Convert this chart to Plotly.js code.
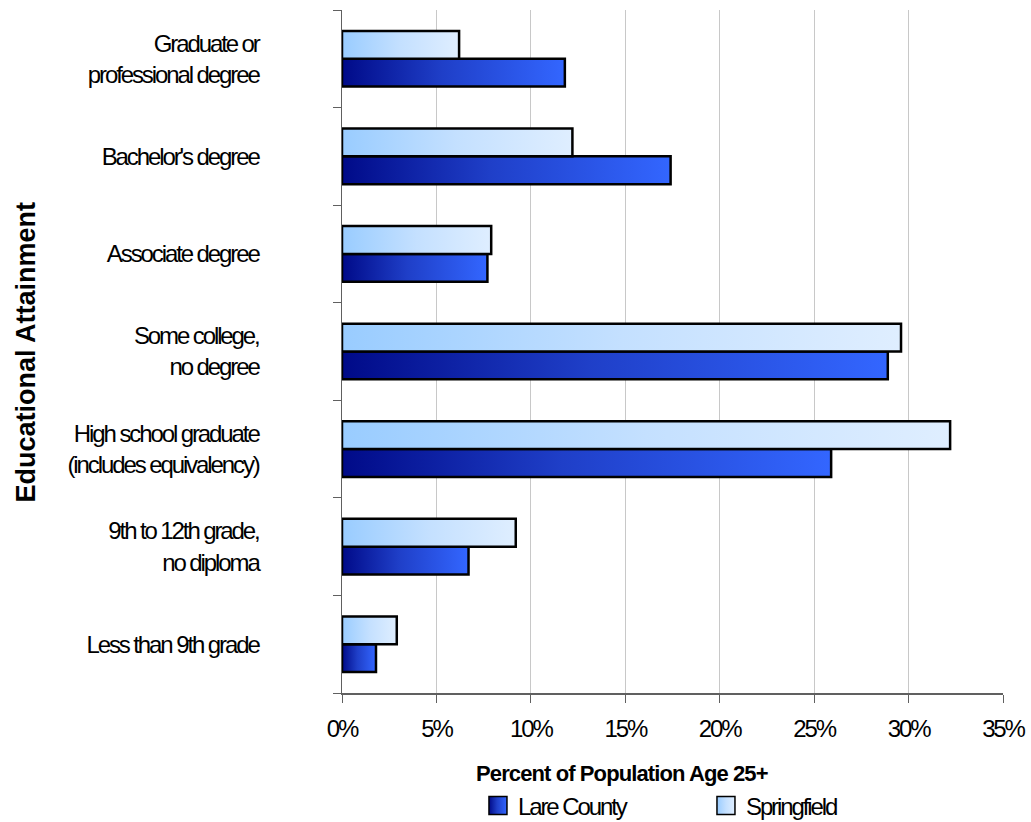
<!DOCTYPE html>
<html>
<head>
<meta charset="utf-8">
<script src="https://cdn.plot.ly/plotly-3.0.1.min.js"></script>
<style>
html,body{margin:0;padding:0;background:#fff;}
#chart{width:1031px;height:822px;}
#chart .xtick text, #chart .ytick text, #chart .legendtext { letter-spacing: -2.1px; }
#chart .annotation-text.xt { letter-spacing: -0.9px; }
</style>
</head>
<body>
<div id="chart"></div>
<script>
// Categories listed bottom to top
const categories = [
  "Less than 9th grade",
  "9th to 12th grade,<br>no diploma",
  "High school graduate<br>(includes equivalency)",
  "Some college,<br>no degree",
  "Associate degree",
  "Bachelor's degree",
  "Graduate or<br>professional degree"
];
const lareCounty = [1.8, 6.7, 25.9, 28.9, 7.7, 17.4, 11.8];
const springfield = [2.9, 9.2, 32.2, 29.6, 7.9, 12.2, 6.2];
const xTickVals = [0, 5, 10, 15, 20, 25, 30, 35];
const xTickText = ["0%", "5%", "10%", "15%", "20%", "25%", "30%", "35%"];
const xTitle = "Percent of Population Age 25+";
const yTitle = "Educational Attainment";

const arial = '"Liberation Sans", Arial, sans-serif';

const traces = [
  {
    type: 'bar', orientation: 'h', name: 'Lare County',
    y: categories, x: lareCounty,
    marker: {color: '#1a3cc8', line: {color: '#000000', width: 2.5}},
    hoverinfo: 'x+y'
  },
  {
    type: 'bar', orientation: 'h', name: 'Springfield',
    y: categories, x: springfield,
    marker: {color: '#bbddff', line: {color: '#000000', width: 2.5}},
    hoverinfo: 'x+y'
  }
];

const layout = {
  width: 1031, height: 822,
  margin: {l: 342, r: 28, t: 10, b: 129, autoexpand: false},
  paper_bgcolor: '#ffffff', plot_bgcolor: '#ffffff',
  barmode: 'group', bargap: 0.43, bargroupgap: 0,
  font: {family: arial, size: 22, color: '#000000'},
  xaxis: {
    range: [0, 35], tickvals: xTickVals, ticktext: xTickText,
    showgrid: true, gridcolor: '#c8c8c8', gridwidth: 1,
    zeroline: false, showline: true, linecolor: '#606060', linewidth: 1.5,
    ticks: 'outside', ticklen: 8, tickcolor: '#606060',
    ticklabelstandoff: 6,
    tickfont: {family: arial, size: 24, color: '#000'},
    automargin: false,
    fixedrange: true
  },
  yaxis: {
    type: 'category',
    showgrid: false, zeroline: false, showline: true, linecolor: '#606060', linewidth: 1.5,
    ticks: 'outside', ticklen: 8, tickcolor: '#606060', tickson: 'boundaries',
    ticklabelstandoff: 77,
    tickfont: {family: arial, size: 24, color: '#000'},
    automargin: false,
    fixedrange: true
  },
  annotations: [
    {
      text: '<b>' + xTitle + '</b>',
      xref: 'paper', yref: 'paper', x: 0.4236, y: 0, yshift: -80,
      xanchor: 'center', yanchor: 'middle', showarrow: false,
      font: {family: arial, size: 22, color: '#000'}
    },
    {
      text: '<b>' + yTitle + '</b>',
      xref: 'paper', yref: 'paper', x: 0, xshift: -317, y: 0.5, yshift: -1,
      xanchor: 'center', yanchor: 'middle', showarrow: false, textangle: -90,
      font: {family: arial, size: 27, color: '#000'}
    }
  ],
  legend: {
    orientation: 'h', x: 0.2057, xanchor: 'left', y: -0.1654, yanchor: 'middle', yref: 'paper',
    traceorder: 'normal', entrywidth: 183, entrywidthmode: 'pixels',
    font: {family: arial, size: 24, color: '#000'},
    bgcolor: 'rgba(0,0,0,0)', itemwidth: 30
  },
  showlegend: true
};

function addGradients(gd) {
  const svg = gd.querySelector('svg.main-svg');
  if (!svg) return;
  let defs = svg.querySelector('defs');
  if (!defs) { defs = document.createElementNS('http://www.w3.org/2000/svg', 'defs'); svg.insertBefore(defs, svg.firstChild); }
  const grads = [
    {id: 'gradLare', stops: [['0%', '#000a88'], ['45%', '#1f3fc8'], ['100%', '#3366ff']]},
    {id: 'gradSpring', stops: [['0%', '#99ccff'], ['50%', '#c4e0ff'], ['100%', '#dfeeff']]}
  ];
  grads.forEach(g => {
    if (defs.querySelector('#' + g.id)) return;
    const lg = document.createElementNS('http://www.w3.org/2000/svg', 'linearGradient');
    lg.setAttribute('id', g.id);
    lg.setAttribute('x1', '0'); lg.setAttribute('y1', '0'); lg.setAttribute('x2', '1'); lg.setAttribute('y2', '0');
    g.stops.forEach(s => {
      const st = document.createElementNS('http://www.w3.org/2000/svg', 'stop');
      st.setAttribute('offset', s[0]); st.setAttribute('stop-color', s[1]);
      lg.appendChild(st);
    });
    defs.appendChild(lg);
  });
  const ids = ['gradLare', 'gradSpring'];
  gd.querySelectorAll('.barlayer .trace').forEach((t, i) => {
    t.querySelectorAll('.point path').forEach(p => { p.style.fill = 'url(#' + ids[i] + ')'; });
  });
  gd.querySelectorAll('.legend .traces').forEach((t, i) => {
    t.querySelectorAll('.legendpoints path').forEach(p => {
      p.style.fill = 'url(#' + ids[i] + ')';
      p.style.strokeWidth = '1.5px';
      p.setAttribute('vector-effect', 'non-scaling-stroke');
      if (!p.hasAttribute('data-orig-tf')) {
        p.setAttribute('data-orig-tf', p.getAttribute('transform') || '');
      }
      const orig = p.getAttribute('data-orig-tf');
      p.setAttribute('transform', orig);
      const bb = p.getBBox();
      const cx = bb.x + bb.width / 2, cy = bb.y + bb.height / 2;
      p.setAttribute('transform', orig + ' translate(' + cx + ',' + cy + ') scale(1.5) translate(' + (-cx) + ',' + (-cy) + ')');
    });
  });
  const ann = gd.querySelectorAll('.annotation-text');
  if (ann[0]) ann[0].classList.add('xt');
}

const gd = document.getElementById('chart');
Plotly.newPlot(gd, traces, layout, {displayModeBar: false, staticPlot: true}).then(() => {
  addGradients(gd);
  gd.on('plotly_afterplot', () => addGradients(gd));
});
</script>
</body>
</html>
